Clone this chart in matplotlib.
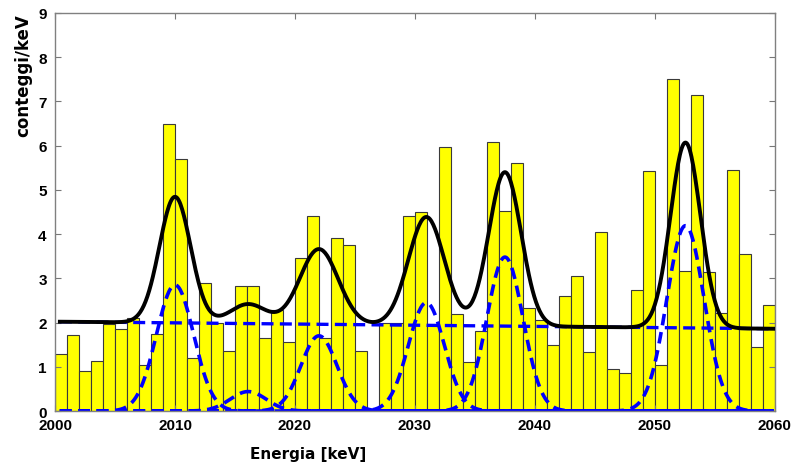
import numpy as np
import matplotlib
matplotlib.use('Agg')
import matplotlib.pyplot as plt

# istogramma: conteggi/keV per bin da 1 keV (2000..2059)
bin_start = 2000
counts = [1.28, 1.72, 0.91, 1.14, 1.96, 1.85, 2.11, 1.05, 1.75, 6.48,
          5.69, 1.21, 2.90, 1.99, 1.36, 2.83, 2.83, 1.64, 2.29, 1.56,
          3.47, 4.42, 1.65, 3.91, 3.75, 1.35, 0.00, 2.00, 2.00, 4.42,
          4.50, 1.94, 5.97, 2.20, 1.11, 1.81, 6.08, 4.52, 5.60, 2.33,
          2.06, 1.50, 2.60, 3.05, 1.34, 4.05, 0.96, 0.86, 2.73, 5.42,
          1.03, 7.51, 3.17, 7.15, 3.14, 2.22, 5.46, 3.55, 1.45, 2.40]

# parametri del fit (fondo lineare + picchi gaussiani)
bg_start = 2.02   # a 2000 keV
bg_end = 1.86     # a 2060 keV
peak_centers = [2010.0, 2016.1, 2022.0, 2030.95, 2037.5, 2052.55]
peak_amps = [2.85, 0.44, 1.70, 2.45, 3.48, 4.19]
fit_sigmas = [1.30, 1.50, 1.60, 1.50, 1.35, 1.25]
comp_sigmas = [1.55, 1.50, 1.50, 1.50, 1.50, 1.55]

x_ticks = [2000, 2010, 2020, 2030, 2040, 2050, 2060]
y_ticks = list(range(0, 10))


def gauss(x, mu, amp, sigma):
    return amp * np.exp(-0.5 * ((x - mu) / sigma) ** 2)


def background(x):
    return bg_start + (bg_end - bg_start) * (x - 2000) / 60.0


fig = plt.figure(figsize=(7.98, 4.64), dpi=100)
ax = fig.add_axes([0.069, 0.112, 0.902, 0.858])

edges = bin_start + np.arange(len(counts))
ax.bar(edges, counts, width=1.0, align='edge', color='#ffff00',
       edgecolor='#3a3a3a', linewidth=0.8, zorder=1)

x = np.linspace(2000.4, 2059.9, 800)
blue = '#0000ff'
for mu, amp, sig in zip(peak_centers, peak_amps, comp_sigmas):
    ax.plot(x, gauss(x, mu, amp, sig), color=blue, lw=2.6,
            dashes=(3.2, 1.9), zorder=2)
ax.plot(x, background(x), color=blue, lw=2.4, dashes=(3.6, 1.9), zorder=2)

total = background(x)
for mu, amp, sig in zip(peak_centers, peak_amps, fit_sigmas):
    total = total + gauss(x, mu, amp, sig)
ax.plot(x, total, color='black', lw=2.8, zorder=3)

ax.set_xlim(2000, 2060)
ax.set_ylim(0, 9)
ax.set_xticks(x_ticks)
ax.set_yticks(y_ticks)
ax.tick_params(direction='in', length=4, width=0.8, color='#777777',
               top=True, right=True, labelsize=11)
ax.tick_params(axis='x', pad=5)
ax.tick_params(axis='y', pad=6)
for lab in ax.get_xticklabels() + ax.get_yticklabels():
    lab.set_fontfamily('Liberation Sans')
    lab.set_fontweight('bold')
for sp in ax.spines.values():
    sp.set_color('#808080')
    sp.set_linewidth(1.0)

ax.text(0.351, -0.088, 'Energia [keV]', transform=ax.transAxes,
        ha='center', va='top', fontsize=11, fontweight='bold',
        family='DejaVu Sans')
ax.text(-0.044, 0.998, 'conteggi/keV', transform=ax.transAxes,
        rotation=90, ha='center', va='top', fontsize=12, fontweight='bold',
        family='DejaVu Sans')

fig.savefig('out.png', dpi=100)
